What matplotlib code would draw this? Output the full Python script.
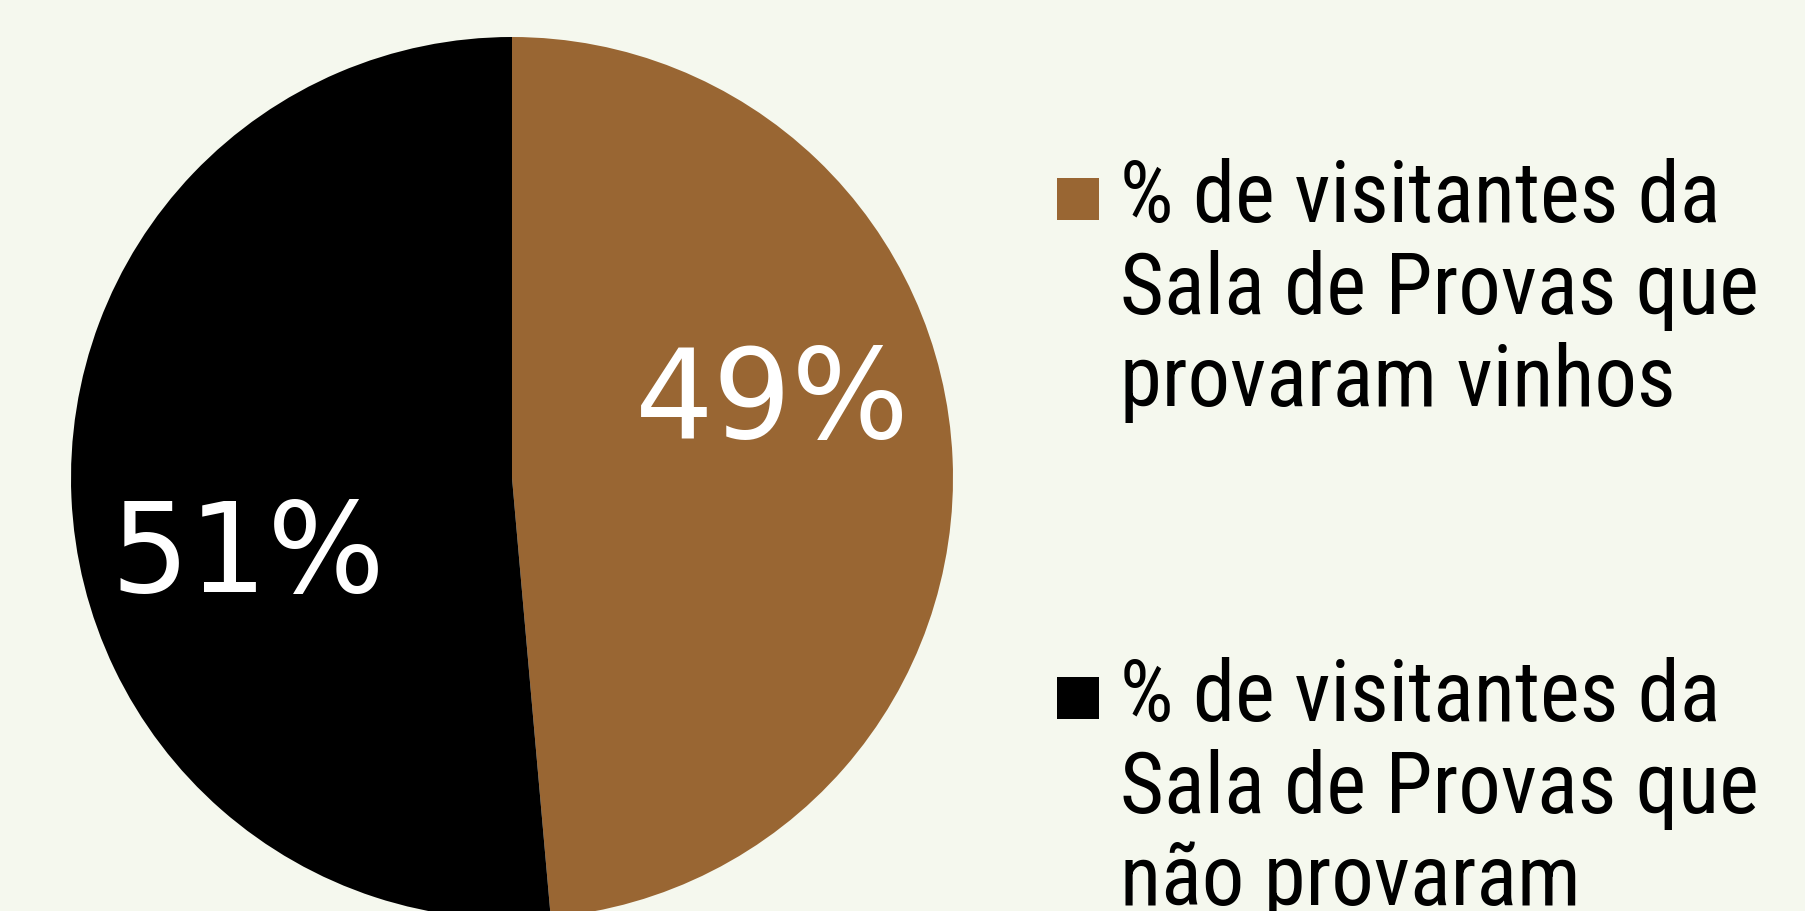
import matplotlib
matplotlib.use("Agg")
import matplotlib.pyplot as plt
from matplotlib import font_manager
from matplotlib.patches import Rectangle

# data
categories = ["% de visitantes da\nSala de Provas que\nprovaram vinhos",
              "% de visitantes da\nSala de Provas que\nnão provaram\nvinhos"]
values = [48.6, 51.4]
colors = ["#996633", "#000000"]
bg = "#f5f8ee"

W, H = 1805, 911


def pick_font(names):
    for n in names:
        try:
            font_manager.findfont(n, fallback_to_default=False)
            return n
        except Exception:
            pass
    return "DejaVu Sans"


legend_font = pick_font(["Liberation Sans Narrow", "Roboto Condensed", "Open Sans Condensed", "DejaVu Sans"])

fig = plt.figure(figsize=(W / 100, H / 100), dpi=100, facecolor=bg)

# pie axes: centre (512, 478) px from top, radius 441 px
cx, cy, r = 512, 478, 441
ax = fig.add_axes([(cx - r) / W, (H - cy - r) / H, 2 * r / W, 2 * r / H])
ax.set_facecolor(bg)
wedges, _ = ax.pie(values, colors=colors, startangle=90, counterclock=False,
                   radius=1, wedgeprops=dict(linewidth=0))
ax.set_xlim(-1, 1)
ax.set_ylim(-1, 1)
ax.axis("off")

# percent labels (placed like the original, not at wedge middles)
label_pos = [(0.59, 0.17), (-0.60, -0.18)]
for v, (lx, ly) in zip(values, label_pos):
    ax.text(lx, ly, "%.0f%%" % v, color="white", fontsize=89,
            ha="center", va="center", family="DejaVu Sans")

# legend drawn by hand
sq_left, sq_size = 1057, 42
txt_left = 1120
entry_top = [178, 677]
line_step = 92
target_w = 661

renderer = fig.canvas.get_renderer()
probe = fig.text(0, 0, "Sala de Provas que", fontsize=50, family=legend_font)
w50 = probe.get_window_extent(renderer).width
probe.remove()
fs = 50 * target_w / w50
fs = min(fs, 61)

for lab, col, top in zip(categories, colors, entry_top):
    fig.patches.append(Rectangle((sq_left / W, (H - top - sq_size) / H), sq_size / W, sq_size / H,
                                 transform=fig.transFigure, facecolor=col, edgecolor="none"))
    base = top + 44
    for k, line in enumerate(lab.split("\n")):
        y = base + k * line_step
        if y > H:  # the original cuts the last line off below the frame
            break
        fig.text(txt_left / W, 1 - y / H, line, fontsize=fs,
                 family=legend_font, color="black", ha="left", va="baseline")

fig.savefig("out.png", dpi=100, facecolor=bg)
